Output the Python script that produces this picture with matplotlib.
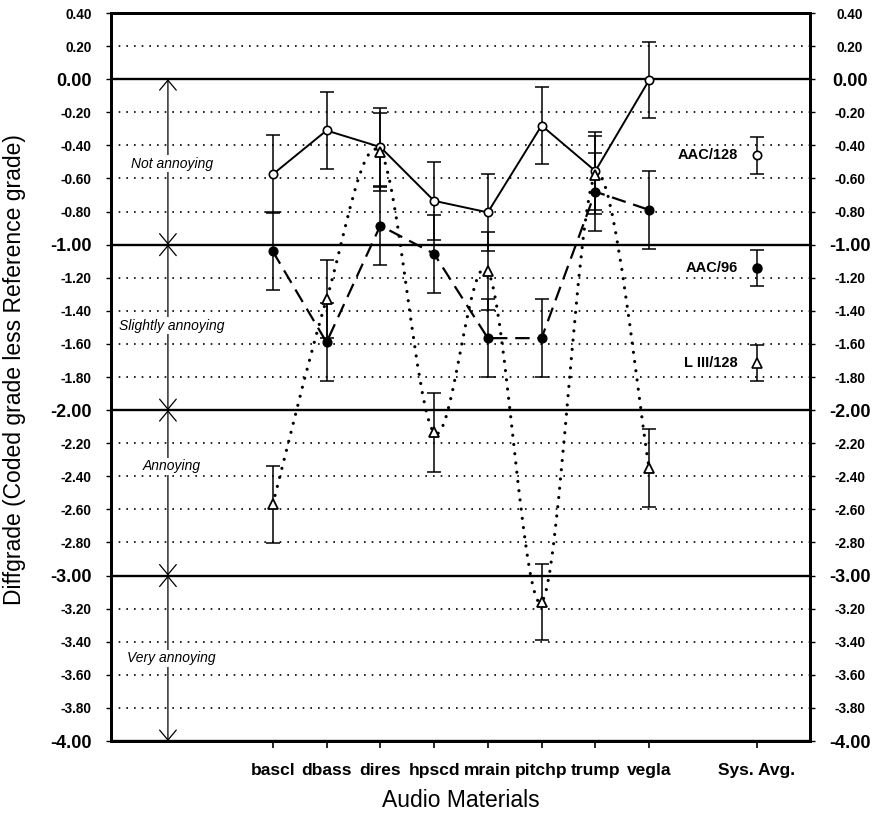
import numpy as np
import matplotlib
matplotlib.use('Agg')
import matplotlib.pyplot as plt
from matplotlib.path import Path
from matplotlib.patches import PathPatch

plt.rcParams['font.family'] = ['Liberation Sans', 'DejaVu Sans']

# ---------------- data ----------------
materials = ['bascl', 'dbass', 'dires', 'hpscd', 'mrain', 'pitchp', 'trump', 'vegla']
sys_tick_label = 'Sys. Avg.'

aac128 = [-0.575, -0.31, -0.41, -0.735, -0.805, -0.28, -0.555, -0.005]
aac128_err = [0.235, 0.235, 0.235, 0.235, 0.235, 0.235, 0.235, 0.23]

aac96 = [-1.04, -1.59, -0.885, -1.055, -1.565, -1.565, -0.68, -0.79]
aac96_err = [0.235, 0.235, 0.235, 0.235, 0.235, 0.235, 0.235, 0.235]

l3_128 = [-2.57, -1.33, -0.44, -2.135, -1.16, -3.16, -0.58, -2.35]
l3_128_err = [0.235, 0.235, 0.235, 0.24, 0.235, 0.23, 0.235, 0.235]

sys_names = ['AAC/128', 'AAC/96', 'L III/128']
sys_means = [-0.46, -1.14, -1.715]
sys_err = [0.11, 0.11, 0.11]

band_labels = ['Not annoying', 'Slightly annoying', 'Annoying', 'Very annoying']
band_tops = [0.0, -1.0, -2.0, -3.0]
band_bottoms = [-1.0, -2.0, -3.0, -4.0]
band_text_y = [-0.51, -1.49, -2.34, -3.50]

y_ticks = np.round(np.arange(0.4, -4.001, -0.2), 2)

# ---------------- figure ----------------
fig = plt.figure(figsize=(8.77, 8.24), dpi=100)
ax = fig.add_axes([0.1271, 0.1007, 0.797, 0.8835])
ax.set_xlim(0, 13)
ax.set_ylim(-4.0, 0.4)

x_mat = np.arange(len(materials)) + 3
x_sys = 12

# grid lines
for v in y_ticks:
    if abs(v - round(v)) < 1e-6:
        ax.axhline(v, color='black', lw=1.7, zorder=1)
    else:
        ax.axhline(v, color='black', lw=1.2, linestyle=(0, (1, 3.6)), zorder=1)

# band arrows
for top, bot, lab, ty in zip(band_tops, band_bottoms, band_labels, band_text_y):
    ax.annotate('', xy=(1.05, bot), xytext=(1.05, top),
                arrowprops=dict(arrowstyle='<->,head_length=0.36,head_width=0.3',
                                color='black', lw=0.9, shrinkA=0, shrinkB=0,
                                mutation_scale=20), zorder=2)
    ax.text(1.12, ty, lab, ha='center', va='center', fontsize=10, style='italic',
            zorder=3, bbox=dict(boxstyle='square,pad=0.12', fc='white', ec='none'))

eb_kw = dict(ecolor='black', elinewidth=1.1, capsize=4.7, capthick=1.1, zorder=4)

# AAC/128
ax.errorbar(x_mat, aac128, yerr=aac128_err, fmt='none', **eb_kw)
ax.plot(x_mat, aac128, '-', color='black', lw=1.4, marker='o', ms=6,
        mfc='white', mec='black', mew=1.2, zorder=6)

# AAC/96
ax.errorbar(x_mat, aac96, yerr=aac96_err, fmt='none', **eb_kw)
ax.plot(x_mat, aac96, color='black', lw=1.6, linestyle=(0, (6.5, 3.5)),
        marker='o', ms=6.3, mfc='black', mec='black', zorder=6)

# L III/128 smooth dotted curve
def smooth_path(xs, ys):
    P = np.column_stack([xs, ys]).astype(float)
    n = len(P)
    verts = [P[0]]
    codes = [Path.MOVETO]
    for i in range(n - 1):
        p0 = P[i - 1] if i > 0 else P[i]
        p1 = P[i]
        p2 = P[i + 1]
        p3 = P[i + 2] if i + 2 < n else P[i + 1]
        verts += [p1 + (p2 - p0) / 6.0, p2 - (p3 - p1) / 6.0, p2]
        codes += [Path.CURVE4] * 3
    return Path(verts, codes)

ax.add_patch(PathPatch(smooth_path(x_mat, l3_128), fill=False, ec='black',
                       lw=2.3, linestyle=(0, (0.01, 2.9)), capstyle='round', zorder=5))
ax.errorbar(x_mat, l3_128, yerr=l3_128_err, fmt='none', **eb_kw)
ax.plot(x_mat, l3_128, linestyle='none', marker='^', ms=7.5, mfc='white',
        mec='black', mew=1.3, zorder=7)

# system averages
sys_markers = [('o', 'white', 6), ('o', 'black', 6.3), ('^', 'white', 7.5)]
for name, m, e, (mk, fc, ms) in zip(sys_names, sys_means, sys_err, sys_markers):
    ax.errorbar([x_sys], [m], yerr=[e], fmt='none', **eb_kw)
    ax.plot([x_sys], [m], linestyle='none', marker=mk, ms=ms, mfc=fc, mec='black',
            mew=1.2, zorder=7)
    ax.text(x_sys - 0.35, m, name, ha='right', va='center', fontsize=10.5,
            fontweight='bold', zorder=8)

# axes styling
for s in ax.spines.values():
    s.set_linewidth(2.0)

ax.set_xticks(list(x_mat) + [x_sys])
ax.set_xticklabels(materials + [sys_tick_label], fontsize=12.5, fontweight='bold')
ax.tick_params(axis='x', direction='out', length=5, width=1.2, pad=11)

def fmt(v):
    v = 0.0 if abs(v) < 1e-9 else v
    return f'{v:.2f}'

ax.set_yticks(y_ticks)
ax.set_yticklabels([fmt(v) for v in y_ticks], fontweight='bold')
ax.tick_params(axis='y', direction='out', length=3.6, width=1, pad=10.8)
for lbl, v in zip(ax.get_yticklabels(), y_ticks):
    lbl.set_fontsize(13 if abs(v - round(v)) < 1e-6 else 9.8)

ax2 = ax.twinx()
ax2.set_ylim(ax.get_ylim())
ax2.set_yticks(y_ticks)
ax2.set_yticklabels([fmt(v) for v in y_ticks], fontweight='bold')
ax2.tick_params(axis='y', direction='out', length=3.6, width=1, pad=24.8)
for lbl, v in zip(ax2.get_yticklabels(), y_ticks):
    lbl.set_ha('center')
    lbl.set_fontsize(13 if abs(v - round(v)) < 1e-6 else 9.8)
for s in ax2.spines.values():
    s.set_linewidth(2.0)

ax.set_ylabel('Diffgrade (Coded grade less Reference grade)', fontsize=16.5)
ax.yaxis.set_label_coords(-0.122, 0.51)
ax.set_xlabel('Audio Materials', fontsize=16.5)
ax.xaxis.set_label_coords(0.5, -0.066)

fig.savefig('out.png', dpi=100)
